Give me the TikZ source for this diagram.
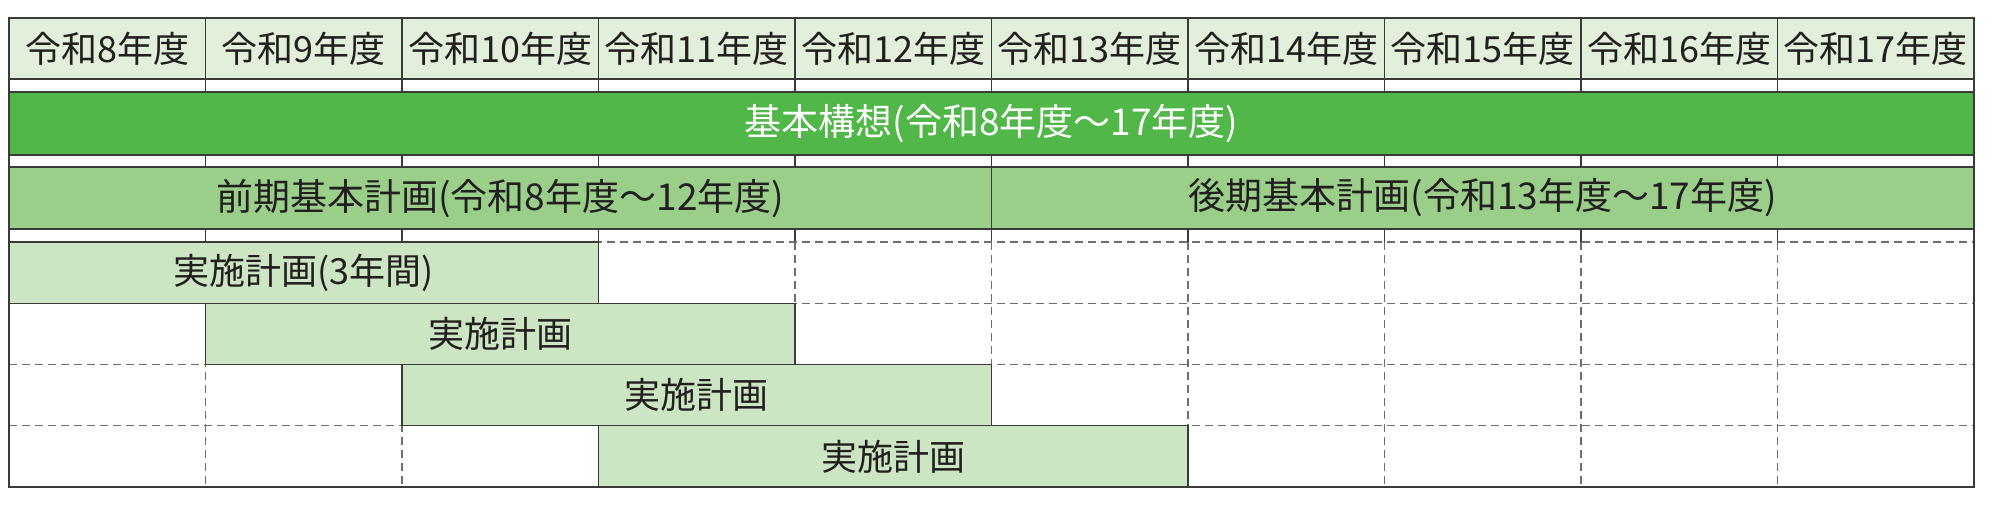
\documentclass[tikz,border=0pt]{standalone}
\usepackage{fontspec}
\newfontfamily\jp{Noto Sans CJK JP}
\definecolor{hdrfill}{HTML}{E2EFDA}
\definecolor{mainfill}{HTML}{50B748}
\definecolor{phasefill}{HTML}{9ACF8A}
\definecolor{implfill}{HTML}{CCE5C2}
\definecolor{ink}{HTML}{231F20}
\definecolor{rulecol}{HTML}{3A3A3A}
\definecolor{dashcol}{HTML}{6E6E6E}
\tikzset{
  celltext/.style={font=\jp\fontsize{18}{18}\selectfont, text=ink, inner sep=0pt},
  hdrcell/.style={celltext, draw=rulecol, fill=hdrfill, line width=0.6pt,
    minimum width=98.25pt, minimum height=30.5pt},
  mainbar/.style={celltext, text=white, draw=rulecol, fill=mainfill, line width=0.6pt,
    minimum width=982.5pt, minimum height=31.5pt},
  phasebar/.style={celltext, draw=rulecol, fill=phasefill, line width=0.6pt,
    minimum width=491.25pt, minimum height=31pt},
  implbar/.style={celltext, draw=rulecol, fill=implfill, line width=0.6pt,
    minimum width=294.75pt, minimum height=30.625pt},
  gridline/.style={draw=dashcol, line width=0.55pt, dash pattern=on 4pt off 2.5pt},
  solidline/.style={draw=rulecol, line width=0.6pt},
  thickline/.style={draw=rulecol, line width=1.1pt},
  frameline/.style={draw=rulecol, line width=1.3pt}
}
\begin{document}
\begin{tikzpicture}[x=0.5pt,y=-0.5pt]
\useasboundingbox (0,0) rectangle (2000,507);
\fill[white] (0,0) rectangle (2000,507);
% frame corners
\coordinate (tl) at (9,18);
\coordinate (br) at (1974,487);
% header row
\foreach \k in {0,...,9}{
  \pgfmathtruncatemacro{\yr}{8+\k}
  \node[hdrcell] (h\k) at ({107.25+196.5*\k},48.5) {令和\yr 年度};
}
% gap-row verticals
\foreach \k in {1,...,9}{
  \coordinate (ga\k) at ({9+196.5*\k},79);
  \coordinate (gb\k) at ({9+196.5*\k},92);
  \coordinate (gc\k) at ({9+196.5*\k},155);
  \coordinate (gd\k) at ({9+196.5*\k},167);
  \coordinate (ge\k) at ({9+196.5*\k},229);
  \coordinate (gf\k) at ({9+196.5*\k},242);
  \coordinate (gg\k) at ({9+196.5*\k},487);
  \draw[solidline] (ga\k) -- (gb\k);
  \draw[solidline] (gc\k) -- (gd\k);
  \draw[solidline] (ge\k) -- (gf\k);
  \draw[gridline] (gf\k) -- (gg\k);
}
% horizontal dashed grid lines
\foreach \y [count=\i] in {242,303.25,364.5,425.75}{
  \coordinate (dl\i) at (9,\y);
  \coordinate (dr\i) at (1974,\y);
  \draw[gridline] (dl\i) -- (dr\i);
}
% basic concept bar
\node[mainbar, font=\jp\fontsize{18.5}{18.5}\selectfont] (kihon) at (991.5,123.5) {基本構想(令和8年度～17年度)};
% phase bars
\node[phasebar, font=\jp\fontsize{18.5}{18.5}\selectfont] (zenki) at (500.25,198) {前期基本計画(令和8年度～12年度)};
\node[phasebar, font=\jp\fontsize{18.5}{18.5}\selectfont] (kouki) at (1482.75,198) {後期基本計画(令和13年度～17年度)};
% implementation bars
\node[implbar] (jisshi1) at ({9+294.75},272.625) {実施計画(3年間)};
\node[implbar] (jisshi2) at ({205.5+294.75},333.875) {実施計画};
\node[implbar] (jisshi3) at ({402+294.75},395.125) {実施計画};
\node[implbar] (jisshi4) at ({598.5+294.75},456.375) {実施計画};
% strong horizontal rules
\coordinate (r1l) at (9,79);   \coordinate (r1r) at (1974,79);
\coordinate (r2l) at (9,167);  \coordinate (r2r) at (1974,167);
\coordinate (r3l) at (9,229);  \coordinate (r3r) at (1974,229);
\draw[thickline] (r1l) -- (r1r);
\draw[thickline] (r2l) -- (r2r);
\draw[solidline] (r3l) -- (r3r);
% outer frame
\draw[frameline] (tl) rectangle (br);
\end{tikzpicture}
\end{document}
